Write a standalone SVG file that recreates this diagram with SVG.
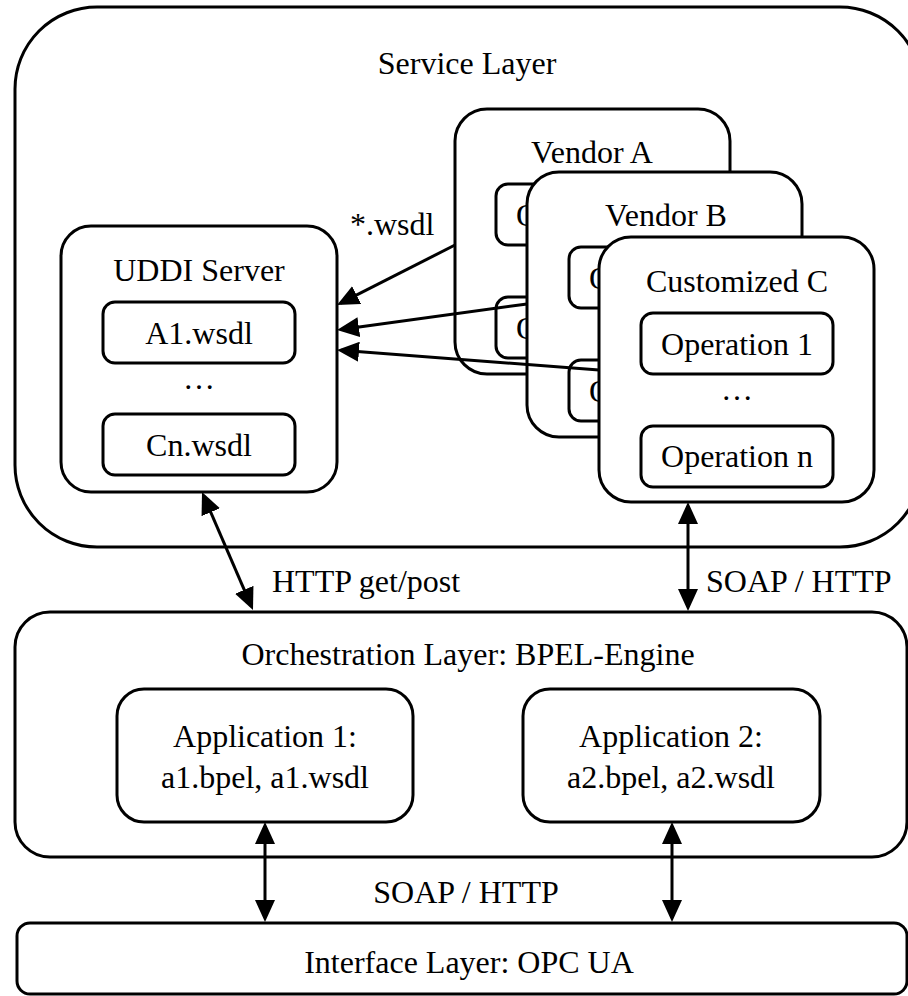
<svg xmlns="http://www.w3.org/2000/svg" width="908" height="996" viewBox="0 0 908 996">
  <style>
    .box { fill: #ffffff; stroke: #000000; stroke-width: 3; }
    .lbl { font-family: "Liberation Serif", "Times New Roman", serif; font-size: 32px; fill: #000000; }
    .mid { text-anchor: middle; }
    .link { fill: none; stroke: #000000; stroke-width: 3; }
  </style>
  <defs>
    <marker id="head" markerUnits="userSpaceOnUse" markerWidth="22" markerHeight="20" refX="18" refY="10" orient="auto-start-reverse" viewBox="0 0 22 20">
      <path d="M0,0 L22,10 L0,20 z" fill="#000000"/>
    </marker>
  </defs>

  <rect width="908" height="996" fill="#ffffff"/>

  <!-- Service layer container -->
  <g id="service-layer">
    <rect class="box" x="15" y="7" width="907" height="540" rx="82" ry="82"/>
    <text class="lbl mid" x="467" y="74">Service Layer</text>
  </g>

  <!-- UDDI registry -->
  <g id="uddi-server">
    <rect class="box" x="61" y="226" width="276" height="266" rx="30" ry="30"/>
    <text class="lbl mid" x="199" y="281">UDDI Server</text>
    <rect class="box" x="103" y="302" width="192" height="61" rx="12" ry="12"/>
    <text class="lbl mid" x="199" y="344">A1.wsdl</text>
    <text class="lbl mid" x="199" y="389">…</text>
    <rect class="box" x="103" y="414" width="192" height="61" rx="12" ry="12"/>
    <text class="lbl mid" x="199" y="456">Cn.wsdl</text>
  </g>

  <!-- Vendor service stacks (drawn back to front; only the leading glyph of the back cards shows) -->
  <g id="vendor-a">
    <rect class="box" x="455" y="109" width="275" height="265" rx="32" ry="32"/>
    <text class="lbl mid" x="592" y="163">Vendor A</text>
    <rect class="box" x="496" y="184" width="192" height="61" rx="12" ry="12"/>
    <text class="lbl" x="516" y="226">O</text>
    <rect class="box" x="496" y="297" width="192" height="61" rx="12" ry="12"/>
    <text class="lbl" x="516" y="339">O</text>
  </g>

  <g id="vendor-b">
    <rect class="box" x="527" y="172" width="275" height="265" rx="32" ry="32"/>
    <text class="lbl mid" x="666" y="226">Vendor B</text>
    <rect class="box" x="569" y="247" width="192" height="61" rx="12" ry="12"/>
    <text class="lbl" x="589" y="289">O</text>
    <rect class="box" x="569" y="360" width="192" height="61" rx="12" ry="12"/>
    <text class="lbl" x="589" y="402">O</text>
  </g>

  <g id="customized-c">
    <rect class="box" x="599" y="237" width="275" height="265" rx="32" ry="32"/>
    <text class="lbl mid" x="737" y="292">Customized C</text>
    <rect class="box" x="641" y="313" width="192" height="61" rx="12" ry="12"/>
    <text class="lbl mid" x="737" y="355">Operation 1</text>
    <text class="lbl mid" x="737" y="400">…</text>
    <rect class="box" x="641" y="426" width="192" height="61" rx="12" ry="12"/>
    <text class="lbl mid" x="737" y="467">Operation n</text>
  </g>

  <!-- Orchestration layer -->
  <g id="orchestration-layer">
    <rect class="box" x="15" y="612" width="892" height="245" rx="35" ry="35"/>
    <text class="lbl mid" x="468" y="665">Orchestration Layer: BPEL-Engine</text>
  </g>

  <g id="application-1">
    <rect class="box" x="117" y="689" width="296" height="133" rx="27" ry="27"/>
    <text class="lbl mid" x="265" y="747">Application 1:</text>
    <text class="lbl mid" x="265" y="788">a1.bpel, a1.wsdl</text>
  </g>

  <g id="application-2">
    <rect class="box" x="523" y="689" width="297" height="133" rx="27" ry="27"/>
    <text class="lbl mid" x="671" y="747">Application 2:</text>
    <text class="lbl mid" x="671" y="788">a2.bpel, a2.wsdl</text>
  </g>

  <!-- Interface layer -->
  <g id="interface-layer">
    <rect class="box" x="17" y="923" width="890" height="71" rx="13" ry="13"/>
    <text class="lbl mid" x="469" y="973">Interface Layer: OPC UA</text>
  </g>

  <!-- Connectors -->
  <g id="connectors">
    <path class="link" d="M455,245 L340.6,303.2" marker-end="url(#head)"/>
    <path class="link" d="M527,304 L341,329.5" marker-end="url(#head)"/>
    <path class="link" d="M599,370 L341,350.3" marker-end="url(#head)"/>
    <path class="link" d="M203.6,495.7 L251.4,606.3" marker-start="url(#head)" marker-end="url(#head)"/>
    <path class="link" d="M688,506 L688,607" marker-start="url(#head)" marker-end="url(#head)"/>
    <path class="link" d="M265,826 L265,918" marker-start="url(#head)" marker-end="url(#head)"/>
    <path class="link" d="M672,826 L672,918" marker-start="url(#head)" marker-end="url(#head)"/>
  </g>

  <!-- Connector labels -->
  <g id="connector-labels">
    <text class="lbl" x="350" y="235">*.wsdl</text>
    <text class="lbl" x="272" y="592">HTTP get/post</text>
    <text class="lbl" x="706" y="592">SOAP / HTTP</text>
    <text class="lbl mid" x="466" y="903">SOAP / HTTP</text>
  </g>
</svg>
